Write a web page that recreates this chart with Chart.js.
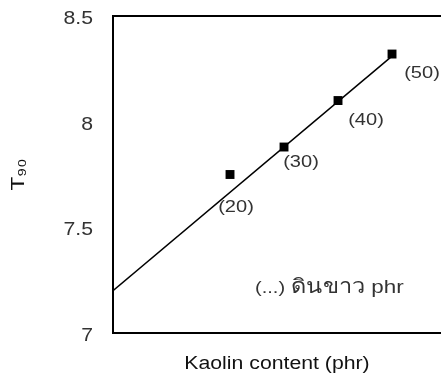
<!DOCTYPE html>
<html>
<head>
<meta charset="utf-8">
<script src="https://cdn.jsdelivr.net/npm/chart.js@4.4.1/dist/chart.umd.min.js"></script>
<style>
  html, body { margin: 0; padding: 0; background: #fff; overflow: hidden; }
  #wrap { width: 441px; height: 376px; }
</style>
</head>
<body>
<div id="wrap"><canvas id="chart"></canvas></div>
<script>
// kaolin loading (phr) and T90
const kaolin = [20, 30, 40, 50];
const t90 = [7.75, 7.88, 8.10, 8.32];
const pointLabels = ['(20)', '(30)', '(40)', '(50)'];

// trend line end points as drawn
const trendX = [-1.67, 50];
const trendY = [7.20, 8.31];

const yTickValues = [7, 7.5, 8, 8.5];

const FONT = "'Liberation Sans', Arial, sans-serif";
// text in the original is rendered a bit wide
const STRETCH = 1.18;

// label offsets in px from each marker
const labelOffsets = [[6, 33], [17, 15], [28, 20], [30, 19]];

const stretchText = {
  id: 'stretchText',
  beforeDraw(chart) {
    const ctx = chart.ctx;
    if (ctx._stretched) return;
    const orig = ctx.fillText.bind(ctx);
    ctx.fillText = function (t, x, y, maxW) {
      this.save();
      this.translate(x, y);
      this.scale(STRETCH, 1);
      if (maxW !== undefined) orig(t, 0, 0, maxW / STRETCH);
      else orig(t, 0, 0);
      this.restore();
    };
    ctx._stretched = true;
  }
};

const labelPlugin = {
  id: 'pointLabels',
  afterDatasetsDraw(chart) {
    const { ctx, scales: { x, y }, chartArea } = chart;
    ctx.save();
    ctx.fillStyle = '#333';
    ctx.font = '17px ' + FONT;
    ctx.textAlign = 'center';
    ctx.textBaseline = 'middle';
    pointLabels.forEach((txt, i) => {
      const px = x.getPixelForValue(kaolin[i]) + labelOffsets[i][0];
      const py = y.getPixelForValue(t90[i]) + labelOffsets[i][1];
      ctx.fillText(txt, px, py);
    });

    // note in the lower right: (...) ดินขาว phr
    const parts = [
      { t: '(...) ', f: '17px ' + FONT },
      { t: 'ดินขาว', f: '20px ' + FONT },
      { t: ' phr', f: '19px ' + FONT }
    ];
    let cx = chartArea.left + 142;
    const base = chartArea.bottom - 40;
    ctx.textAlign = 'left';
    ctx.textBaseline = 'alphabetic';
    parts.forEach(p => {
      ctx.font = p.f;
      ctx.fillText(p.t, cx, base);
      cx += ctx.measureText(p.t).width * STRETCH;
    });
    ctx.restore();
  }
};

function noPad(s) {
  s.paddingLeft = 0;
  s.paddingRight = 0;
  s.paddingTop = 0;
  s.paddingBottom = 0;
}

new Chart(document.getElementById('chart'), {
  type: 'scatter',
  data: {
    datasets: [
      {
        label: 'T90',
        data: kaolin.map((k, i) => ({ x: k, y: t90[i] })),
        pointStyle: 'rect',
        pointRadius: 6.3,
        pointHoverRadius: 6.3,
        borderWidth: 0,
        backgroundColor: '#000',
        borderColor: '#000',
        showLine: false
      },
      {
        label: 'trend',
        data: trendX.map((k, i) => ({ x: k, y: trendY[i] })),
        showLine: true,
        pointRadius: 0,
        borderColor: '#000',
        borderWidth: 1.5,
        fill: false
      }
    ]
  },
  options: {
    responsive: true,
    maintainAspectRatio: false,
    animation: false,
    layout: { padding: 0, autoPadding: false },
    plugins: {
      legend: { display: false },
      tooltip: { enabled: false }
    },
    scales: {
      x: {
        type: 'linear',
        position: 'bottom',
        min: -1.67,
        max: 59.07,
        grid: { display: false, drawTicks: false },
        border: { display: true, color: '#000', width: 2 },
        ticks: { display: false },
        title: {
          display: true,
          text: 'Kaolin content (phr)',
          color: '#111',
          font: { family: FONT, size: 18 },
          padding: { top: 0, bottom: 1 }
        },
        afterFit(s) { s.height = 43; noPad(s); }
      },
      x2: {
        type: 'linear',
        position: 'top',
        min: -1.67,
        max: 59.07,
        grid: { display: false, drawTicks: false },
        border: { display: true, color: '#000', width: 2 },
        ticks: { display: false },
        afterFit(s) { s.height = 16; noPad(s); }
      },
      y: {
        min: 7,
        max: 8.5,
        grid: { display: false, drawTicks: false },
        border: { display: true, color: '#000', width: 2 },
        afterBuildTicks(s) { s.ticks = yTickValues.map(v => ({ value: v })); },
        ticks: {
          padding: 20,
          labelOffset: 3,
          color: '#333',
          font: { family: FONT, size: 18 },
          callback: v => String(v)
        },
        title: {
          display: true,
          text: 'T\u2089\u2080',
          color: '#111',
          font: { family: FONT, size: 19 },
          padding: { top: 7, bottom: 0 }
        },
        afterFit(s) { s.width = 113; noPad(s); }
      }
    }
  },
  plugins: [stretchText, labelPlugin]
});
</script>
</body>
</html>
